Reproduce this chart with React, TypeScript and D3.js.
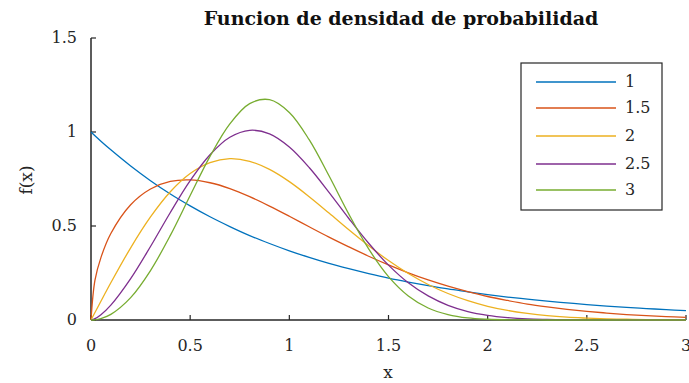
import React from "react";
import * as d3 from "d3";

const xs = [0, 0.02, 0.05, 0.1, 0.2, 0.3, 0.4, 0.5, 0.6, 0.7, 0.8, 0.9, 1.0, 1.1, 1.2, 1.3, 1.4, 1.5, 1.6, 1.7, 1.8, 1.9, 2.0, 2.1, 2.2, 2.3, 2.4, 2.5, 2.6, 2.7, 2.8, 2.9, 3.0];

const seriesNames = ["1", "1.5", "2", "2.5", "3"];
const colors = ["#0072BD", "#D95319", "#EDB120", "#7E2F8E", "#77AC30"];

const s1 = [1, 0.980, 0.951, 0.905, 0.819, 0.741, 0.670, 0.607, 0.549, 0.497, 0.449, 0.407, 0.368, 0.333, 0.301, 0.273, 0.247, 0.223, 0.202, 0.183, 0.165, 0.150, 0.135, 0.122, 0.111, 0.100, 0.091, 0.082, 0.074, 0.067, 0.061, 0.055, 0.050];
const s15 = [0, 0.212, 0.332, 0.460, 0.613, 0.697, 0.737, 0.745, 0.730, 0.699, 0.656, 0.606, 0.552, 0.496, 0.441, 0.389, 0.339, 0.293, 0.251, 0.213, 0.180, 0.151, 0.125, 0.104, 0.085, 0.070, 0.057, 0.046, 0.037, 0.029, 0.023, 0.018, 0.014];
const s2 = [0, 0.040, 0.100, 0.198, 0.384, 0.548, 0.682, 0.779, 0.837, 0.858, 0.844, 0.801, 0.736, 0.656, 0.569, 0.480, 0.395, 0.316, 0.247, 0.189, 0.141, 0.103, 0.073, 0.051, 0.035, 0.023, 0.015, 0.010, 0.006, 0.004, 0.002, 0.001, 0.001];
const s25 = [0, 0.007, 0.028, 0.079, 0.220, 0.391, 0.572, 0.741, 0.879, 0.972, 1.009, 0.990, 0.920, 0.811, 0.679, 0.540, 0.408, 0.292, 0.198, 0.128, 0.078, 0.045, 0.025, 0.013, 0.006, 0.003, 0.001, 0.0005, 0.0002, 0.0001, 0, 0, 0];
const s3 = [0, 0.001, 0.008, 0.030, 0.119, 0.263, 0.450, 0.662, 0.870, 1.043, 1.151, 1.172, 1.104, 0.959, 0.767, 0.563, 0.378, 0.231, 0.128, 0.064, 0.029, 0.011, 0.004, 0.001, 0.0004, 0, 0, 0, 0, 0, 0, 0, 0];

const allSeries = [s1, s15, s2, s25, s3];

const xTicks = [0, 0.5, 1, 1.5, 2, 2.5, 3];
const yTicks = [0, 0.5, 1, 1.5];

export default function App() {
  const W = 689, H = 383;
  const x = d3.scaleLinear().domain([0, 3]).range([91, 686]);
  const y = d3.scaleLinear().domain([0, 1.5]).range([320, 38]);
  const line = d3
    .line<[number, number]>()
    .x((d) => x(d[0]))
    .y((d) => y(d[1]))
    .curve(d3.curveCatmullRom.alpha(0.5));
  const font = "'DejaVu Serif', 'Liberation Serif', serif";
  const axisColor = "#262626";
  const legendRows = [82, 108, 136, 164, 190];

  return (
    <svg width={W} height={H} style={{ position: "absolute", left: 0, top: 0 }} fontFamily={font}>
      <rect x={0} y={0} width={W} height={H} fill="#fff" />
      {/* axes */}
      <line x1={x(0)} x2={x(3)} y1={y(0)} y2={y(0)} stroke={axisColor} strokeWidth={1.5} />
      <line x1={x(0)} x2={x(0)} y1={y(0)} y2={y(1.5)} stroke={axisColor} strokeWidth={1.5} />
      {xTicks.map((t) => (
        <g key={"xt" + t}>
          <line x1={x(t)} x2={x(t)} y1={y(0)} y2={y(0) - 5} stroke={axisColor} strokeWidth={1.2} />
          <text x={x(t)} y={351} textAnchor="middle" fontSize={16} fill="#262626">
            {t}
          </text>
        </g>
      ))}
      {yTicks.map((t) => (
        <g key={"yt" + t}>
          <line x1={x(0)} x2={x(0) + 5} y1={y(t)} y2={y(t)} stroke={axisColor} strokeWidth={1.2} />
          <text x={77} y={y(t) + 5} textAnchor="end" fontSize={16} fill="#262626">
            {t}
          </text>
        </g>
      ))}
      {/* curves */}
      {allSeries.map((s, i) => (
        <path
          key={"s" + i}
          d={line(xs.map((xv, j) => [xv, s[j]] as [number, number])) || ""}
          fill="none"
          stroke={colors[i]}
          strokeWidth={1.3}
        />
      ))}
      {/* labels */}
      <text x={401} y={25} textAnchor="middle" fontSize={19} fontWeight="bold" fill="#111">
        Funcion de densidad de probabilidad
      </text>
      <text x={388} y={378} textAnchor="middle" fontSize={17} fill="#262626">
        x
      </text>
      <text transform="translate(32,180) rotate(-90)" textAnchor="middle" fontSize={17} fill="#262626">
        f(x)
      </text>
      {/* legend */}
      <rect x={521} y={63} width={141} height={147} fill="#fff" stroke={axisColor} strokeWidth={1.2} />
      {seriesNames.map((n, i) => (
        <g key={"lg" + i}>
          <line x1={536} x2={616} y1={legendRows[i]} y2={legendRows[i]} stroke={colors[i]} strokeWidth={1.3} />
          <text x={625} y={legendRows[i] + 5} fontSize={16} fill="#262626">
            {n}
          </text>
        </g>
      ))}
    </svg>
  );
}
